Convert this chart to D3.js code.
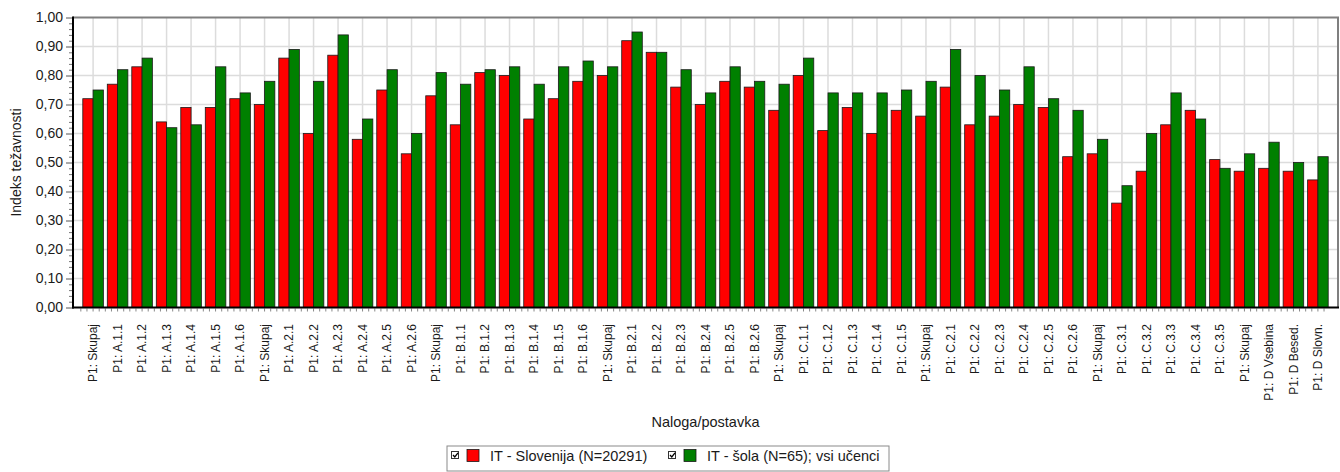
<!DOCTYPE html>
<html><head><meta charset="utf-8">
<script src="https://cdn.jsdelivr.net/npm/d3@7"></script>
<style>
body{margin:0;background:#fff;}
text{font-family:"Liberation Sans",Arial,sans-serif;}
</style>
</head><body>
<svg id="chart" width="1340" height="472"></svg>
<script>
const categories = ["P1: Skupaj","P1: A.1.1","P1: A.1.2","P1: A.1.3","P1: A.1.4","P1: A.1.5","P1: A.1.6",
  "P1: Skupaj","P1: A.2.1","P1: A.2.2","P1: A.2.3","P1: A.2.4","P1: A.2.5","P1: A.2.6",
  "P1: Skupaj","P1: B.1.1","P1: B.1.2","P1: B.1.3","P1: B.1.4","P1: B.1.5","P1: B.1.6",
  "P1: Skupaj","P1: B.2.1","P1: B.2.2","P1: B.2.3","P1: B.2.4","P1: B.2.5","P1: B.2.6",
  "P1: Skupaj","P1: C.1.1","P1: C.1.2","P1: C.1.3","P1: C.1.4","P1: C.1.5",
  "P1: Skupaj","P1: C.2.1","P1: C.2.2","P1: C.2.3","P1: C.2.4","P1: C.2.5","P1: C.2.6",
  "P1: Skupaj","P1: C.3.1","P1: C.3.2","P1: C.3.3","P1: C.3.4","P1: C.3.5",
  "P1: Skupaj","P1: D Vsebina","P1: D Besed.","P1: D Slovn."];
const sloveniaValues = [0.72,0.77,0.83,0.64,0.69,0.69,0.72,
  0.70,0.86,0.60,0.87,0.58,0.75,0.53,
  0.73,0.63,0.81,0.80,0.65,0.72,0.78,
  0.80,0.92,0.88,0.76,0.70,0.78,0.76,
  0.68,0.80,0.61,0.69,0.60,0.68,
  0.66,0.76,0.63,0.66,0.70,0.69,0.52,
  0.53,0.36,0.47,0.63,0.68,0.51,
  0.47,0.48,0.47,0.44];
const schoolValues = [0.75,0.82,0.86,0.62,0.63,0.83,0.74,
  0.78,0.89,0.78,0.94,0.65,0.82,0.60,
  0.81,0.77,0.82,0.83,0.77,0.83,0.85,
  0.83,0.95,0.88,0.82,0.74,0.83,0.78,
  0.77,0.86,0.74,0.74,0.74,0.75,
  0.78,0.89,0.80,0.75,0.83,0.72,0.68,
  0.58,0.42,0.60,0.74,0.65,0.48,
  0.53,0.57,0.50,0.52];
const seriesNames = ["IT - Slovenija (N=20291)", "IT - šola (N=65); vsi učenci"];
const seriesColors = ["#ff0000", "#008000"];
const yTickValues = [0,0.1,0.2,0.3,0.4,0.5,0.6,0.7,0.8,0.9,1.0];
const yTitle = "Indeks težavnosti";
const xTitle = "Naloga/postavka";

const svg = d3.select("#chart");
const L = 73, R = 1338, T = 17.5, B = 307.5;

const x = d3.scaleBand().domain(d3.range(categories.length)).range([L, R]).paddingInner(0.16).paddingOuter(0.4);
const xs = d3.scaleBand().domain([0,1]).range([0, x.bandwidth()]);
const y = d3.scaleLinear().domain([0,1]).range([B, T]);
const fmt = v => d3.format(".2f")(v).replace(".", ",");

// grid
const g = svg.append("g");
g.selectAll("line.h").data(yTickValues.filter(v => v > 0 && v < 1)).join("line")
  .attr("x1", L).attr("x2", R).attr("y1", d => y(d)).attr("y2", d => y(d))
  .attr("stroke", "#dcdcdc").attr("stroke-width", 1.5);
g.selectAll("line.v").data(d3.range(categories.length)).join("line")
  .attr("x1", d => x(d) + x.bandwidth()/2).attr("x2", d => x(d) + x.bandwidth()/2)
  .attr("y1", T).attr("y2", B)
  .attr("stroke", "#dcdcdc").attr("stroke-width", 1.5);

// bars
const series = [sloveniaValues, schoolValues];
series.forEach((vals, si) => {
  svg.append("g").selectAll("rect").data(vals).join("rect")
    .attr("x", (d, i) => x(i) + xs(si))
    .attr("width", xs.bandwidth())
    .attr("y", d => y(d))
    .attr("height", d => y(0) - y(d))
    .attr("fill", seriesColors[si])
    .attr("stroke", "#1a1a1a").attr("stroke-width", 0.8);
});

// frame top/right
svg.append("path").attr("d", `M${L},${T}H${R}V${B}`).attr("fill", "none")
  .attr("stroke", "#7f7f7f").attr("stroke-width", 2);

// y axis
const yAxis = svg.append("g").attr("transform", `translate(${L - 1},0)`)
  .call(d3.axisLeft(y).tickValues(yTickValues).tickSize(6).tickPadding(3).tickFormat(fmt));
yAxis.select(".domain").remove();
yAxis.selectAll(".tick line").attr("stroke", "#555");
yAxis.selectAll("text").attr("font-size", 14).attr("fill", "#1a1a1a")
  .attr("font-family", '"Liberation Sans",Arial,sans-serif');
const minor = d3.range(0, 1.0001, 0.02).filter(v => Math.abs(v*10 - Math.round(v*10)) > 1e-6);
const yMinor = svg.append("g").attr("transform", `translate(${L - 1},0)`)
  .call(d3.axisLeft(y).tickValues(minor).tickSize(3).tickFormat(""));
yMinor.select(".domain").remove();
yMinor.selectAll(".tick line").attr("stroke", "#777");

// x minor ticks
const xMinorPos = [];
d3.range(categories.length).forEach(i => {
  for (let k = 0; k < 4; k++) xMinorPos.push(x(i) - x.step()*x.paddingInner()/2 + k*x.step()/4);
});
svg.append("g").selectAll("line").data(xMinorPos).join("line")
  .attr("x1", d => d).attr("x2", d => d).attr("y1", B + 1).attr("y2", B + 4)
  .attr("stroke", "#888").attr("stroke-width", 1);

// axis lines
svg.append("line").attr("x1", L).attr("x2", L).attr("y1", T - 1).attr("y2", B + 1)
  .attr("stroke", "#000").attr("stroke-width", 2);
svg.append("line").attr("x1", L - 1).attr("x2", R + 1).attr("y1", B).attr("y2", B)
  .attr("stroke", "#000").attr("stroke-width", 2);

// x labels
svg.append("g").selectAll("text").data(categories).join("text")
  .attr("transform", (d, i) => `translate(${x(i) + x.bandwidth()/2},324) rotate(-90)`)
  .attr("text-anchor", "end").attr("dy", "0.35em")
  .attr("font-size", 12).attr("fill", "#1a1a1a")
  .text(d => d);

// titles
svg.append("text").attr("transform", `translate(16,${(T + B)/2}) rotate(-90)`)
  .attr("text-anchor", "middle").attr("dy", "0.35em").attr("font-size", 14).attr("fill", "#1a1a1a")
  .text(yTitle);
svg.append("text").attr("x", (L + R)/2).attr("y", 427)
  .attr("text-anchor", "middle").attr("font-size", 14.5).attr("fill", "#1a1a1a")
  .text(xTitle);

// legend
const lg = svg.append("g");
lg.append("rect").attr("x", 447).attr("y", 446).attr("width", 442).attr("height", 25)
  .attr("fill", "#fff").attr("stroke", "#8a8a8a").attr("stroke-width", 1);
const legendX = [451, 668];
seriesNames.forEach((name, i) => {
  const gx = legendX[i];
  lg.append("rect").attr("x", gx + 0.5).attr("y", 451.5).attr("width", 7).attr("height", 7)
    .attr("fill", "#fff").attr("stroke", "#333").attr("stroke-width", 1);
  lg.append("path").attr("d", `M${gx + 2},${455} L${gx + 3.8},${457} L${gx + 7},${452.8}`)
    .attr("fill", "none").attr("stroke", "#000").attr("stroke-width", 1.3);
  lg.append("rect").attr("x", gx + 16).attr("y", 449.5).attr("width", 12).attr("height", 12)
    .attr("fill", seriesColors[i]).attr("stroke", "#1a1a1a").attr("stroke-width", 0.8);
  lg.append("text").attr("x", gx + 39).attr("y", 461).attr("font-size", 14.5).attr("fill", "#1a1a1a")
    .text(name);
});
</script>
</body></html>
